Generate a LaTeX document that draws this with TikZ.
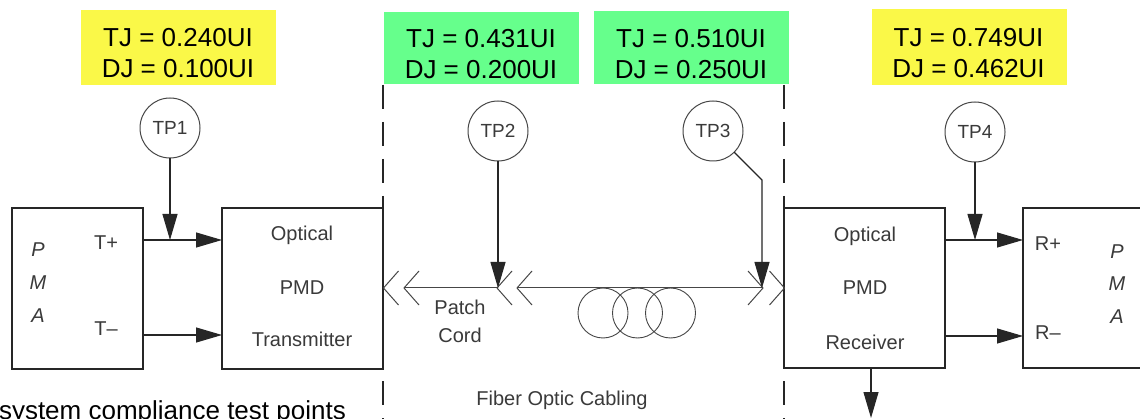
\documentclass[tikz,border=0pt]{standalone}
\usepackage{fontspec}
\setmainfont{Liberation Sans}
\usetikzlibrary{arrows.meta,calc}
\definecolor{jyellow}{RGB}{250,248,72}
\definecolor{jgreen}{RGB}{102,255,140}
\definecolor{ink}{RGB}{38,38,38}
\definecolor{labelgray}{RGB}{58,58,58}
\definecolor{tpgray}{RGB}{70,70,70}
\definecolor{fibgray}{RGB}{70,70,70}
\tikzset{
 blk/.style={draw=ink,line width=1.1pt,inner sep=0pt,outer sep=0pt,rectangle},
 tpc/.style={draw=tpgray,line width=1pt,circle,minimum size=60pt,inner sep=0pt,outer sep=0pt,font=\fontsize{19}{19}\selectfont,text=labelgray},
 lbl/.style={inner sep=0pt,outer sep=0pt,text=labelgray,font=\fontsize{20}{20}\selectfont,anchor=base},
 pmal/.style={inner sep=0pt,outer sep=0pt,text=labelgray,font=\fontsize{20}{20}\selectfont\itshape},
 jbox/.style={fill=#1,inner sep=0pt,outer sep=0pt},
 jtxt/.style={align=center,font=\fontsize{26}{31}\selectfont,inner sep=0pt,text=black},
 sig/.style={draw=ink,line width=1.1pt,-{Triangle[length=26pt,width=15pt]}},
 fib/.style={draw=fibgray,line width=1pt},
 coil/.style={draw=fibgray,line width=0.9pt},
 bound/.style={draw=ink,line width=1.6pt,dash pattern=on 24pt off 13pt},
}
\newcommand\fibchevL[1]{\draw[fib] ($(#1)+(15,-17)$) -- (#1) -- ($(#1)+(15,17)$);}
\newcommand\fibchevR[1]{\draw[fib] ($(#1)+(-15,-17)$) -- (#1) -- ($(#1)+(-15,17)$);}
\begin{document}
\begin{tikzpicture}[x=1pt,y=-1pt]
\useasboundingbox[fill=white] (0,0) rectangle (1140,419);

% jitter value boxes
\node[jbox=jyellow,minimum width=195pt,minimum height=75pt] (yb1) at (178.5,47.5) {};
\node[jbox=jgreen,minimum width=195pt,minimum height=72pt] (gb1) at (481.5,48) {};
\node[jbox=jgreen,minimum width=195pt,minimum height=73pt] (gb2) at (691.5,47.5) {};
\node[jbox=jyellow,minimum width=195pt,minimum height=76pt] (yb2) at (969.5,47) {};
\node[jtxt] (yt1) at (178,53) {TJ = 0.240UI\\DJ = 0.100UI};
\node[jtxt] (gt1) at (481,54) {TJ = 0.431UI\\DJ = 0.200UI};
\node[jtxt] (gt2) at (691,54) {TJ = 0.510UI\\DJ = 0.250UI};
\node[jtxt] (yt2) at (968.5,53) {TJ = 0.749UI\\DJ = 0.462UI};

% boundaries of the cabling
\coordinate (bL0) at (383,85);
\coordinate (bL1) at (383,425);
\coordinate (bR0) at (784,85);
\coordinate (bR1) at (784,425);

% blocks
\node[blk,minimum width=131pt,minimum height=161pt] (pmaL) at (77.5,288.5) {};
\node[blk,minimum width=161pt,minimum height=161pt] (tx) at (302.5,288.5) {};
\node[blk,minimum width=161pt,minimum height=160pt] (rx) at (864.5,288) {};
\node[blk,minimum width=140pt,minimum height=160pt] (pmaR) at (1093,288) {};

\draw[bound] (bL0) -- (bL1);
\draw[bound] (bR0) -- (bR1);

% block labels
\node[pmal] (pL1) at (38,250) {P};
\node[pmal] (pL2) at (38,283) {M};
\node[pmal] (pL3) at (38,316) {A};
\node[pmal] (pR1) at (1117,252) {P};
\node[pmal] (pR2) at (1117,284) {M};
\node[pmal] (pR3) at (1117,317) {A};
\node[lbl,anchor=center] (tplab) at (106,243) {T+};
\node[lbl,anchor=center] (tmlab) at (106,329) {T\textendash};
\node[lbl,anchor=center] (rplab) at (1048,244) {R+};
\node[lbl,anchor=center] (rmlab) at (1048,333) {R\textendash};
\node[lbl] (tx1) at (302,241) {Optical};
\node[lbl] (tx2) at (302,295) {PMD};
\node[lbl] (tx3) at (302,347) {Transmitter};
\node[lbl] (rx1) at (865,242) {Optical};
\node[lbl] (rx2) at (865,295) {PMD};
\node[lbl] (rx3) at (865,349) {Receiver};
\node[lbl] (pc1) at (460,315) {Patch};
\node[lbl] (pc2) at (460,342) {Cord};
\node[lbl] (foc) at (562,405) {Fiber Optic Cabling};

% test points
\node[tpc] (tp1) at (170,128) {TP1};
\node[tpc] (tp2) at (498,131) {TP2};
\node[tpc] (tp3) at (713,131) {TP3};
\node[tpc] (tp4) at (975,132) {TP4};

% electrical signal lines
\coordinate (tPo) at ($(pmaL.north east)+(0,32)$);
\coordinate (tPi) at ($(tx.north west)+(0,32)$);
\coordinate (tMo) at ($(pmaL.north east)+(0,127)$);
\coordinate (tMi) at ($(tx.north west)+(0,127)$);
\coordinate (rPo) at ($(rx.north east)+(0,32)$);
\coordinate (rPi) at ($(pmaR.north west)+(0,32)$);
\coordinate (rMo) at ($(rx.north east)+(0,128)$);
\coordinate (rMi) at ($(pmaR.north west)+(0,128)$);
\draw[sig] (tPo) -- (tPi);
\draw[sig] (tMo) -- (tMi);
\draw[sig] (rPo) -- (rPi);
\draw[sig] (rMo) -- (rMi);

% fiber and connectors
\coordinate (c1) at (383.5,288);
\coordinate (c2) at (404,288);
\coordinate (c3) at (497,288);
\coordinate (c4) at (517,288);
\coordinate (c5) at (763,288);
\coordinate (c6) at (784.5,288);
\fibchevL{c1}
\fibchevL{c2}
\fibchevL{c3}
\fibchevL{c4}
\fibchevR{c5}
\fibchevR{c6}
\draw[fib] (c2) -- (c3);
\draw[fib] (c4) -- (c5);
\draw[coil] (603,313) circle (25);
\draw[coil] (637.5,313) circle (25);
\draw[coil] (670.5,313) circle (25);

% test point probes
\coordinate (tp3bend) at (762,180);
\draw[sig] (tp1.south) -- (tp1.south |- tPo);
\draw[sig] (tp2.south) -- (tp2.south |- c3);
\draw[sig] (tp3.-45) -- (tp3bend) -- (tp3bend |- c5);
\draw[sig] (tp4.south) -- (tp4.south |- rPo);

% receiver output
\coordinate (rxout) at ($(rx.south)+(6.5,0)$);
\coordinate (rxend) at (871,418);
\draw[sig] (rxout) -- (rxend);

% caption fragment
\node[inner sep=0pt,outer sep=0pt,anchor=base west,font=\fontsize{26}{26}\selectfont,text=black] (cap) at (-1,419.5) {system compliance test points};
\end{tikzpicture}
\end{document}
